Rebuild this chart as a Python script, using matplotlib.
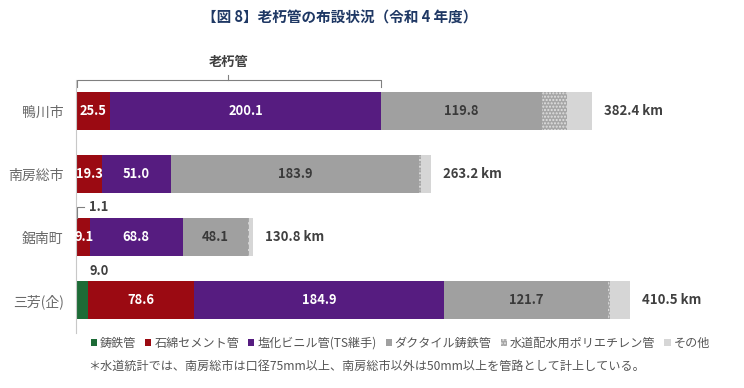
import matplotlib.pyplot as plt
import numpy as np

plt.rcParams['font.family'] = ['Noto Sans CJK JP', 'DejaVu Sans']
plt.rcParams['hatch.linewidth'] = 1.0

# data (km)
cities = ['鴨川市', '南房総市', '鋸南町', '三芳(企)']
cast_iron = [0.0, 0.0, 1.1, 9.0]
asbestos = [25.5, 19.3, 9.1, 78.6]
pvc = [200.1, 51.0, 68.8, 184.9]
ductile = [119.8, 183.9, 48.1, 121.7]
polyethylene = [18.0, 1.0, 1.0, 1.0]
other = [19.0, 8.0, 2.7, 15.3]
totals = [382.4, 263.2, 130.8, 410.5]

series_names = ['鋳鉄管', '石綿セメント管', '塩化ビニル管(TS継手)', 'ダクタイル鋳鉄管',
                '水道配水用ポリエチレン管', 'その他']
colors = ['#1d6b36', '#9b0a12', '#561c80', '#a0a0a0', '#a6a6a6', '#d6d6d6']

fig = plt.figure(figsize=(7.44, 3.88), dpi=100)
ax = fig.add_axes([76 / 744, 55 / 388, 648 / 744, 253 / 388])

y = np.arange(len(cities))
h = 0.6
series = [cast_iron, asbestos, pvc, ductile, polyethylene, other]
left = np.zeros(len(cities))
handles = []
for i, vals in enumerate(series):
    vals = np.array(vals)
    if i == 4:
        b = ax.barh(y, vals, h, left=left, color=colors[i], edgecolor='#e2e2e2',
                    linewidth=0, hatch='.....', label=series_names[i])
    else:
        b = ax.barh(y, vals, h, left=left, color=colors[i], linewidth=0,
                    label=series_names[i])
    handles.append(b)
    # value labels inside bars
    if i in (1, 2, 3):
        txtc = 'white' if i in (1, 2) else '#3a3a3a'
        for j, v in enumerate(vals):
            ax.text(left[j] + v / 2, y[j], f'{v:.1f}', ha='center', va='center',
                    color=txtc, fontsize=9.3, fontweight='bold')
    left = left + vals

# totals
for j, t in enumerate(totals):
    ax.text(t + 9, y[j], f'{t:.1f} km', ha='left', va='center',
            color='#404040', fontsize=9.5, fontweight='bold')

# cast iron labels above the bars
ax.text(10, 2 - 0.47, '1.1', ha='left', va='center', color='#404040',
        fontsize=9.3, fontweight='bold')
ax.plot([0.6, 0.6, 6], [2 - 0.3, 2 - 0.47, 2 - 0.47], color='#808080', lw=0.8)
ax.text(10, 3 - 0.47, '9.0', ha='left', va='center', color='#404040',
        fontsize=9.3, fontweight='bold')

# bracket for 老朽管
end = asbestos[0] + pvc[0]
by = -0.49
ax.plot([0.5, 0.5, end, end], [-0.38, by, by, -0.38], color='#808080', lw=0.8,
        clip_on=False)
ax.plot([end / 2, end / 2], [by, by - 0.08], color='#808080', lw=0.8, clip_on=False)
ax.text(end / 2, by - 0.28, '老朽管', ha='center', va='center', fontsize=9.5,
        fontweight='bold', color='#404040')

ax.set_xlim(0, 480)
ax.set_ylim(3.52, -0.49)
ax.set_yticks(y)
ax.set_yticklabels(cities, fontsize=10, color='#6a6a6a')
ax.tick_params(axis='y', length=0, pad=9)
ax.set_xticks([])
for s in ['top', 'right', 'bottom']:
    ax.spines[s].set_visible(False)
ax.spines['left'].set_color('#c8c8c8')
ax.spines['left'].set_linewidth(0.8)

fig.text(340 / 744, 1 - 18 / 388, '【図 8】老朽管の布設状況（令和 4 年度）', ha='center',
         va='center', fontsize=10.5, fontweight='bold', color='#1f3864')

leg = fig.legend(handles=handles, loc='center left', bbox_to_anchor=(86 / 744, 1 - 343 / 388),
                 ncol=6, frameon=False, fontsize=8.7, handlelength=0.5, handleheight=0.5,
                 handletextpad=0.25, columnspacing=0.75, labelcolor='#555555', borderaxespad=0)

fig.text(88 / 744, 1 - 366 / 388,
         '＊水道統計では、南房総市は口径75mm以上、南房総市以外は50mm以上を管路として計上している。',
         ha='left', va='center', fontsize=8.7, color='#555555')

fig.savefig('out.png', dpi=100)
